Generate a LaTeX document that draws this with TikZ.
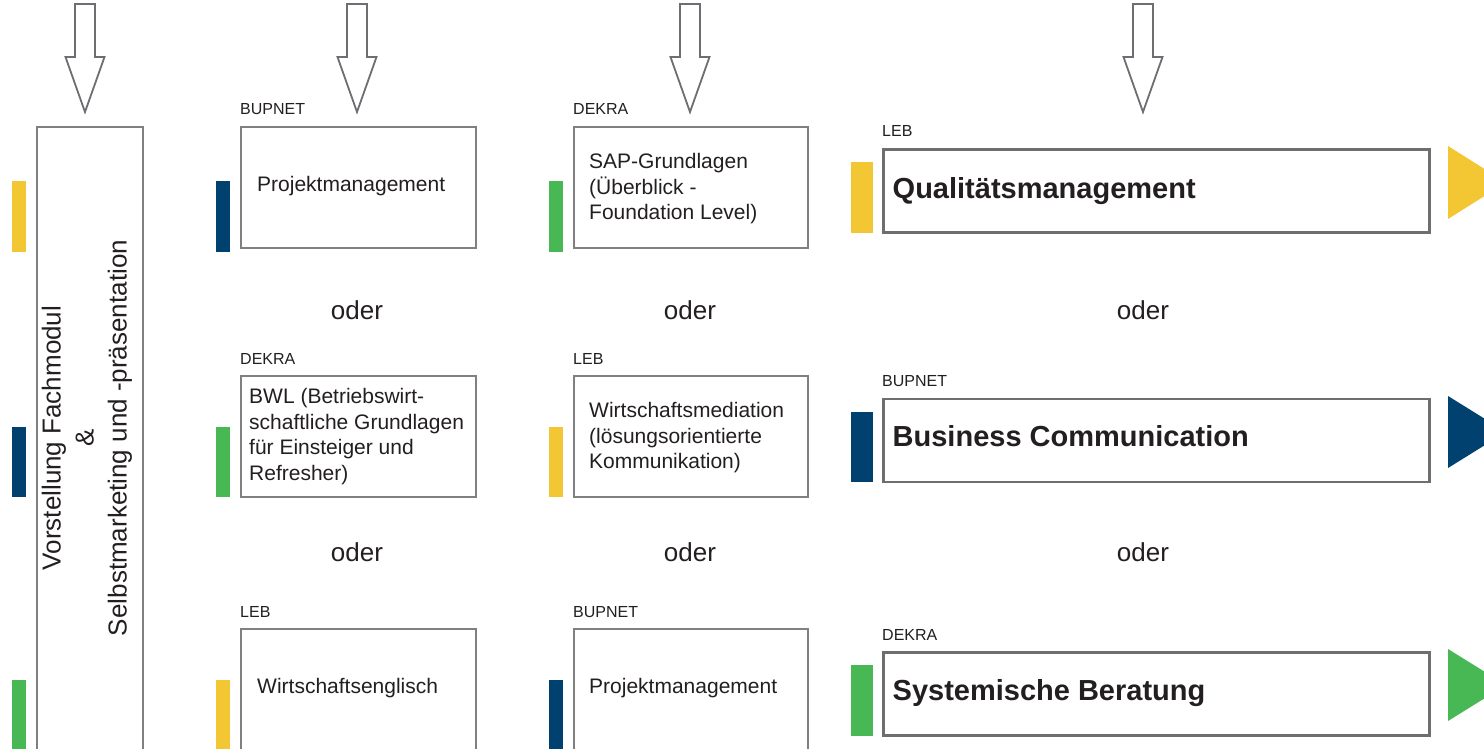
\documentclass[tikz,border=0pt]{standalone}
\usepackage{fontspec}
\setmainfont{Liberation Sans}
\definecolor{markyellow}{HTML}{F3C734}
\definecolor{markblue}{HTML}{004170}
\definecolor{markgreen}{HTML}{48B855}
\definecolor{boxgray}{HTML}{808080}
\definecolor{bigbox}{HTML}{6E6E71}
\definecolor{arrowgray}{HTML}{6D6E71}
\definecolor{txt}{HTML}{231F20}
\tikzset{
  colbox/.style={draw=boxgray, line width=1.6pt, fill=white, minimum width=235, minimum height=121, inner sep=0, anchor=north west},
  bigframe/.style={draw=bigbox, line width=2.6pt, fill=white, minimum width=546, minimum height=83, inner sep=0, anchor=north west},
  provider/.style={anchor=base west, inner sep=0, text=txt, font=\fontsize{16}{19}\selectfont},
  bodytext/.style={anchor=north west, inner sep=0, align=left, text=txt, font=\fontsize{21}{25.5}\selectfont},
  singletext/.style={anchor=base west, inner sep=0, text=txt, font=\fontsize{21}{25.5}\selectfont},
  bigtext/.style={anchor=base west, inner sep=0, text=txt, font=\fontsize{29}{34}\selectfont\bfseries},
  odertext/.style={anchor=base, inner sep=0, text=txt, font=\fontsize{26}{31}\selectfont},
  blockarrow/.style={draw=arrowgray, line width=1.8pt, fill=white, line join=miter},
}
\begin{document}
\begin{tikzpicture}[x=1pt,y=-1pt]
\useasboundingbox (0,0) rectangle (1484,749);
\clip (0,0) rectangle (1484,749);
\fill[white] (0,0) rectangle (1484,749);

% block arrows
\foreach \c in {85,357,690,1143}{
  \draw[blockarrow] (\c-10,4) -- (\c-10,57) -- (\c-19.5,57) -- (\c,112) -- (\c+19.5,57) -- (\c+10,57) -- (\c+10,4) -- cycle;
}

% left column box
\node[draw=boxgray, line width=1.6pt, fill=white, minimum width=106, minimum height=640, inner sep=0, anchor=north west] (intro) at (36,126) {};
\node[rotate=90, align=center, text=txt, inner sep=0, font=\fontsize{26}{33}\selectfont] (introtext) at (87,438)
  {Vorstellung Fachmodul\\\&\\Selbstmarketing und -präsentation};

% left bars
\fill[markyellow] (12,181) rectangle (26,252);
\fill[markblue] (12,427) rectangle (26,497);
\fill[markgreen] (12,680) rectangle (26,760);

% column 1
\node[colbox] (a1) at (240,126) {};
\node[colbox] (a2) at (240,375) {};
\node[colbox, minimum height=130] (a3) at (240,628) {};
\fill[markblue] (216,181) rectangle (230,252);
\fill[markgreen] (216,427) rectangle (230,497);
\fill[markyellow] (216,680) rectangle (230,760);
\node[provider] (la1) at (240,115) {BUPNET};
\node[provider] (la2) at (240,364) {DEKRA};
\node[provider] (la3) at (240,617) {LEB};
\node[singletext] (ta1) at (257,191) {Projektmanagement};
\node[bodytext] (ta2) at (249,403.3-17.85) {\strut BWL (Betriebswirt-\\schaftliche Grundlagen\\für Einsteiger und\\Refresher)};
\node[singletext] (ta3) at (257,693) {Wirtschaftsenglisch};

% column 2
\node[colbox, minimum width=234] (b1) at (573,126) {};
\node[colbox, minimum width=234] (b2) at (573,375) {};
\node[colbox, minimum width=234, minimum height=130] (b3) at (573,628) {};
\fill[markgreen] (549,181) rectangle (563,252);
\fill[markyellow] (549,427) rectangle (563,497);
\fill[markblue] (549,680) rectangle (563,760);
\node[provider] (lb1) at (573,115) {DEKRA};
\node[provider] (lb2) at (573,364) {LEB};
\node[provider] (lb3) at (573,617) {BUPNET};
\node[bodytext] (tb1) at (589,168.3-17.85) {\strut SAP-Grundlagen\\(Überblick -\\Foundation Level)};
\node[bodytext] (tb2) at (589,417.7-17.85) {\strut Wirtschaftsmediation\\(lösungsorientierte\\Kommunikation)};
\node[singletext] (tb3) at (589,693) {Projektmanagement};

% column 3 (big boxes)
\node[bigframe] (c1) at (882,148) {};
\node[bigframe] (c2) at (882,397.5) {};
\node[bigframe] (c3) at (882,651) {};
\fill[markyellow] (851,162) rectangle (873,233);
\fill[markblue] (851,412) rectangle (873,482);
\fill[markgreen] (851,665) rectangle (873,736);
\node[provider] (lc1) at (882,137) {LEB};
\node[provider] (lc2) at (882,386.5) {BUPNET};
\node[provider] (lc3) at (882,640) {DEKRA};
\node[bigtext] (tc1) at (892.5,198.5) {Qualitätsmanagement};
\node[bigtext] (tc2) at (892.5,446) {Business Communication};
\node[bigtext] (tc3) at (892.5,700) {Systemische Beratung};

% right triangles
\fill[markyellow] (1448,146) -- (1506,182.5) -- (1448,219) -- cycle;
\fill[markblue] (1448,396) -- (1506,432) -- (1448,468) -- cycle;
\fill[markgreen] (1448,649) -- (1506,685) -- (1448,721) -- cycle;

% oder
\node[odertext] (o1) at (357,319) {oder};
\node[odertext] (o2) at (357,561) {oder};
\node[odertext] (o3) at (690,319) {oder};
\node[odertext] (o4) at (690,561) {oder};
\node[odertext] (o5) at (1143,319) {oder};
\node[odertext] (o6) at (1143,561) {oder};
\end{tikzpicture}
\end{document}
